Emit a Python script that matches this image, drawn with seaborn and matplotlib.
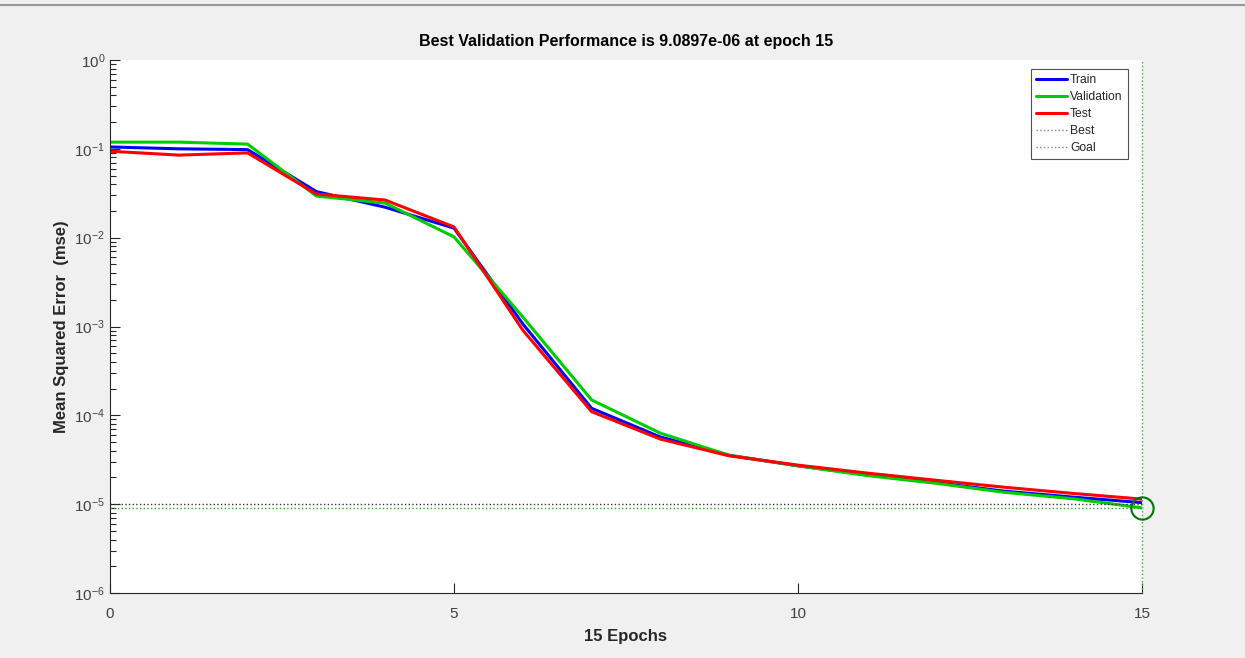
import numpy as np
import pandas as pd
import matplotlib
matplotlib.use("Agg")
import matplotlib.pyplot as plt
import seaborn as sns
from matplotlib.ticker import FixedLocator, LogLocator, LogFormatterMathtext, NullFormatter
from matplotlib.lines import Line2D

epochs = list(range(16))
train = [0.105, 0.100, 0.098, 0.033, 0.022, 0.0128, 1.07e-3, 1.20e-4, 5.7e-5, 3.55e-5,
         2.70e-5, 2.15e-5, 1.75e-5, 1.40e-5, 1.20e-5, 1.04e-5]
validation = [0.119, 0.119, 0.113, 0.0294, 0.0245, 0.0102, 1.28e-3, 1.49e-4, 6.3e-5, 3.55e-5,
              2.70e-5, 2.10e-5, 1.72e-5, 1.36e-5, 1.15e-5, 9.0897e-6]
test = [0.094, 0.085, 0.090, 0.031, 0.0265, 0.0132, 9.1e-4, 1.10e-4, 5.4e-5, 3.50e-5,
        2.75e-5, 2.24e-5, 1.86e-5, 1.55e-5, 1.32e-5, 1.14e-5]
series_names = ["Train", "Validation", "Test"]
best_epoch = 15
best_perf = 9.0897e-06
goal = 1e-5
x_ticks = [0, 5, 10, 15]
y_ticks = [1e-6, 1e-5, 1e-4, 1e-3, 1e-2, 1e-1, 1e0]

df = pd.DataFrame({
    "epoch": epochs * 3,
    "mse": train + validation + test,
    "set": [series_names[0]] * 16 + [series_names[1]] * 16 + [series_names[2]] * 16,
})

sns.set_style("white")
plt.rcParams['font.family'] = ['Liberation Sans', 'DejaVu Sans']
plt.rcParams['mathtext.default'] = 'regular'
plt.rcParams['axes.unicode_minus'] = False

fig = plt.figure(figsize=(12.45, 6.58), dpi=100, facecolor="#f0f0f0")
ax = fig.add_axes([110/1245, 1 - 593/658, (1142-110)/1245, (593-60)/658])
ax.set_facecolor("white")

palette = {"Train": "#0000ff", "Validation": "#00cc00", "Test": "#ff0000"}
sns.lineplot(data=df, x="epoch", y="mse", hue="set", palette=palette, linewidth=2.2,
             ax=ax, legend=False, sort=False)

ax.set_yscale("log")
ax.set_ylim(1e-6, 1e0)
ax.set_xlim(0, 15)

# best / goal lines
ax.axhline(best_perf, color="#22aa22", linestyle=":", linewidth=1)
ax.axvline(best_epoch, color="#44aa44", linestyle=":", linewidth=1, clip_on=False)
ax.axhline(goal, color="#333333", linestyle=":", linewidth=1)
ax.plot([best_epoch], [best_perf], marker="o", markersize=16, markerfacecolor="none",
        markeredgecolor="#007700", markeredgewidth=1.5, clip_on=False, zorder=5)

ax.set_xticks(x_ticks)
ax.yaxis.set_major_locator(FixedLocator(y_ticks))
ax.yaxis.set_major_formatter(LogFormatterMathtext())
ax.yaxis.set_minor_locator(LogLocator(base=10, subs=np.arange(2, 10), numticks=20))
ax.yaxis.set_minor_formatter(NullFormatter())
ax.tick_params(axis="both", which="both", left=True, bottom=True, top=False, right=False)
ax.tick_params(axis="both", which="major", direction="in", length=7, width=0.8,
               labelsize=11, colors="#262626", labelcolor="#404040")
ax.tick_params(axis="y", which="minor", direction="in", length=4, width=0.8, color="#262626")
ax.tick_params(axis="x", pad=10)

for s in ["top", "right"]:
    ax.spines[s].set_visible(False)
for s in ["left", "bottom"]:
    ax.spines[s].set_color("#262626")
    ax.spines[s].set_linewidth(0.8)

ax.set_title("Best Validation Performance is 9.0897e-06 at epoch 15", fontsize=11.5,
             fontweight="bold", color="black", pad=10)
ax.set_xlabel("15 Epochs", fontsize=12, fontweight="bold", color="#262626", labelpad=6)
ax.set_ylabel("Mean Squared Error  (mse)", fontsize=12, fontweight="bold", color="#262626")
ax.yaxis.set_label_coords(-0.040, 0.5)

handles = [
    Line2D([], [], color=palette["Train"], linewidth=2.2),
    Line2D([], [], color=palette["Validation"], linewidth=2.2),
    Line2D([], [], color=palette["Test"], linewidth=2.2),
    Line2D([], [], color="#888888", linestyle=":", linewidth=1),
    Line2D([], [], color="#888888", linestyle=":", linewidth=1),
]
leg = ax.legend(handles, series_names + ["Best", "Goal"], loc="upper right",
                bbox_to_anchor=(0.986, 0.983), fontsize=8.7, frameon=True, fancybox=False,
                edgecolor="#262626", handlelength=2.6, handletextpad=0.25,
                labelspacing=0.42, borderpad=0.4, borderaxespad=0)
leg.get_frame().set_linewidth(0.8)

fig.add_artist(Line2D([0, 1], [1 - 5/658, 1 - 5/658], transform=fig.transFigure,
                      color="#999999", linewidth=1.5))

fig.savefig("out.png", dpi=100, facecolor=fig.get_facecolor())
